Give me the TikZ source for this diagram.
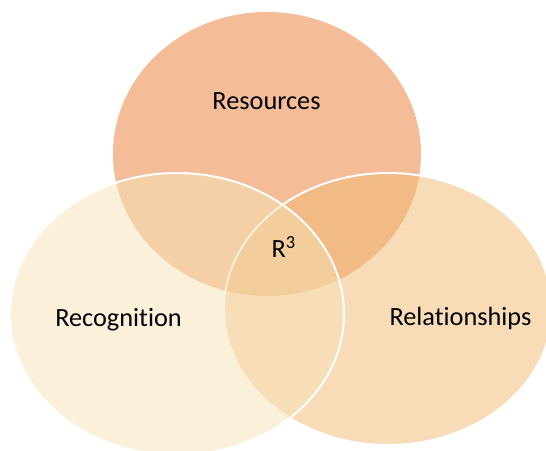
\documentclass[tikz,border=0pt]{standalone}
\usepackage{fontspec}
\setmainfont[Ligatures=NoCommon]{Carlito}
\usetikzlibrary{shapes.geometric}
\definecolor{vennres}{HTML}{F4BD98}
\definecolor{vennrec}{HTML}{F7E1B5}
\definecolor{vennrel}{HTML}{F1B971}

\begin{document}
\begin{tikzpicture}[x=0.5pt,y=-0.5pt,
        every node/.style={font=\fontsize{13.15}{16}\selectfont},
        set/.style={
          ellipse, inner sep=0pt, outer sep=0pt,
          draw=white, line width=1pt,
        },
        lbl/.style={anchor=base, inner sep=0pt, text=black},
      ]
      \useasboundingbox (0,0) rectangle (546,450);
      \clip (0,0) rectangle (546,450);

      % the three sets, top one first, then right, then left
      \node[set, draw=none, fill=vennres,
            minimum width=154pt, minimum height=142pt] (res) at (267,154) {};
      \node[set, fill=vennrel, fill opacity=0.5,
            minimum width=164pt, minimum height=136pt] (rel) at (388,309) {};
      \node[set, fill=vennrec, fill opacity=0.5,
            minimum width=167pt, minimum height=141pt] (rec) at (177,314) {};

      \node[lbl] (tres) at (266.5,109) {Resources};
      \node[lbl] (trec) at (118.5,326) {Recognition};
      \node[lbl] (trel) at (460.5,325) {Relationships};
      \node[lbl] (tall) at (284,257) {R\textsuperscript{3}};
    \end{tikzpicture}
\end{document}
